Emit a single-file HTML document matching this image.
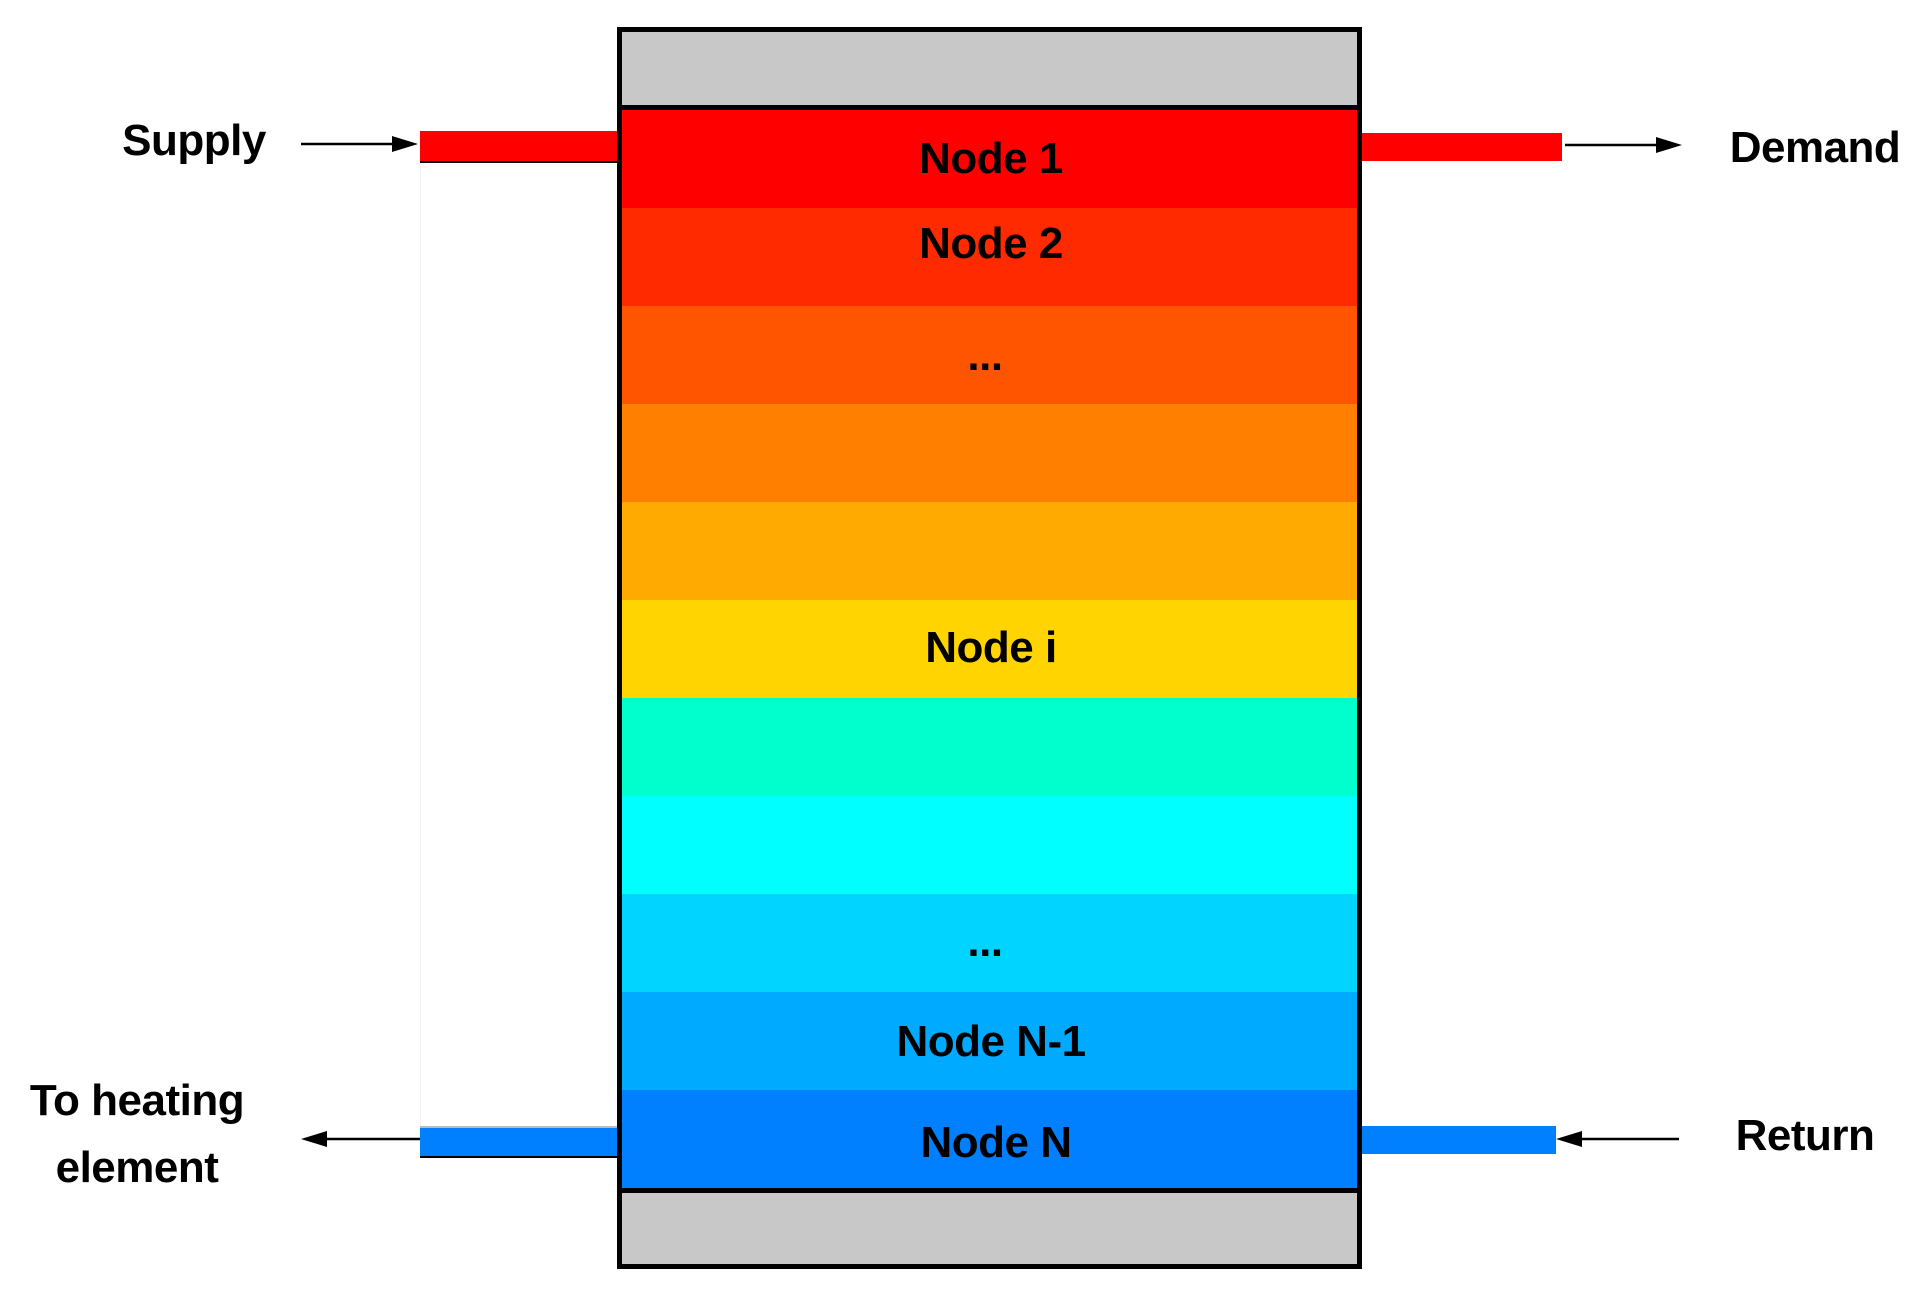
<!DOCTYPE html>
<html><head><style>
body{margin:0;width:1928px;height:1292px;background:#fff;position:relative;overflow:hidden;font-family:"Liberation Sans",sans-serif;font-weight:bold;}
.a{position:absolute}
.t{position:absolute;transform:translate(-50%,-50%);font-size:44px;white-space:nowrap;color:#000;letter-spacing:-0.5px}
</style></head><body>
<div class="a" style="left:420px;top:160px;width:1px;height:966px;background:#f2f2f2"></div>
<div class="a" style="left:420px;top:131px;width:200px;height:30px;background:#f00;border-bottom:2px solid #000"></div>
<div class="a" style="left:1360px;top:133px;width:202px;height:28px;background:#f00"></div>
<div class="a" style="left:420px;top:1126px;width:200px;height:28px;background:#0080ff;border-bottom:2px solid #000;border-top:2px solid #bbb"></div>
<div class="a" style="left:1360px;top:1126px;width:196px;height:28px;background:#0080ff"></div>
<div class="a" style="left:617px;top:27px;width:735px;height:1232px;border:5px solid #000;background:#c8c8c8"></div>
<div class="a" style="left:622px;top:105px;width:735px;height:1078px;border-top:5px solid #000;border-bottom:5px solid #000">
<div style="height:98px;background:#ff0000"></div>
<div style="height:98px;background:#ff2a00"></div>
<div style="height:98px;background:#ff5500"></div>
<div style="height:98px;background:#ff7f00"></div>
<div style="height:98px;background:#ffaa00"></div>
<div style="height:98px;background:#ffd400"></div>
<div style="height:98px;background:#00ffcc"></div>
<div style="height:98px;background:#00ffff"></div>
<div style="height:98px;background:#00d4ff"></div>
<div style="height:98px;background:#00aaff"></div>
<div style="height:98px;background:#0080ff"></div>
</div>
<svg class="a" style="left:0;top:0" width="1928" height="1292">
<g stroke="#000" stroke-width="2.5" fill="#000">
<line x1="301" y1="144" x2="405" y2="144"/><polygon points="418,144 392,136 392,152" stroke="none"/>
<line x1="1565" y1="145" x2="1670" y2="145"/><polygon points="1682,145 1656,137 1656,153" stroke="none"/>
<line x1="315" y1="1139" x2="420" y2="1139"/><polygon points="301,1139 327,1131 327,1147" stroke="none"/>
<line x1="1570" y1="1139" x2="1679" y2="1139"/><polygon points="1556,1139 1582,1131 1582,1147" stroke="none"/>
</g></svg>
<div class="t" style="left:194px;top:141px">Supply</div>
<div class="t" style="left:1815px;top:148px">Demand</div>
<div class="t" style="left:1805px;top:1136px">Return</div>
<div class="t" style="left:137px;top:1101px">To heating</div>
<div class="t" style="left:137px;top:1168px">element</div>
<div class="t" style="left:991px;top:159px">Node 1</div>
<div class="t" style="left:991px;top:244px">Node 2</div>
<div class="t" style="left:985px;top:356px">...</div>
<div class="t" style="left:991px;top:648px">Node i</div>
<div class="t" style="left:985px;top:942px">...</div>
<div class="t" style="left:991px;top:1042px">Node N-1</div>
<div class="t" style="left:996px;top:1143px">Node N</div>
</body></html>
